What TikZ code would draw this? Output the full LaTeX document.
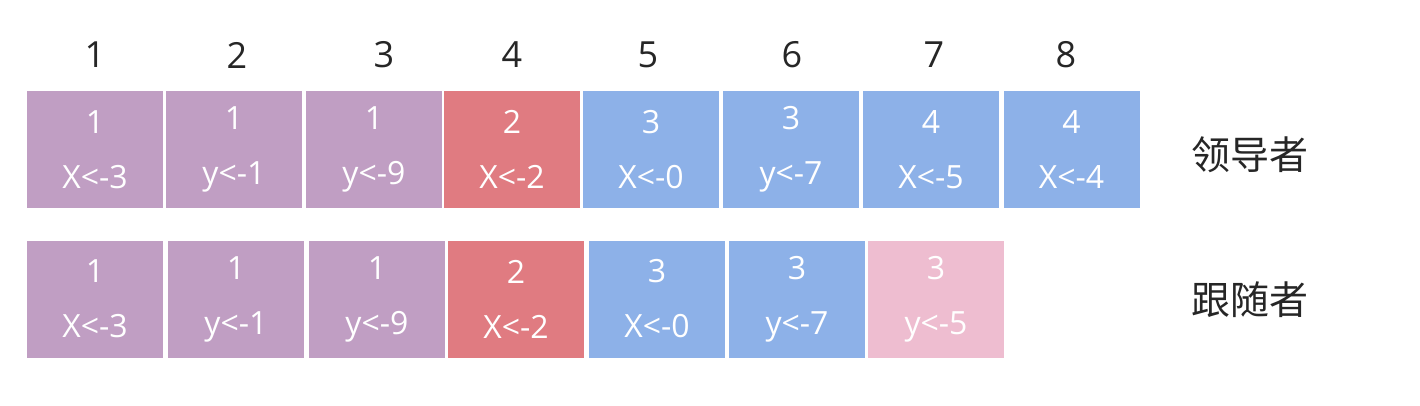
\documentclass[tikz,border=0pt]{standalone}
\usepackage{fontspec}
\setmainfont{Open Sans}
\newfontfamily\cjkfont{Noto Sans CJK SC}
\definecolor{purp}{HTML}{C09EC3}
\definecolor{redc}{HTML}{E07B81}
\definecolor{bluec}{HTML}{8DB1E8}
\definecolor{pinkc}{HTML}{EEBDD0}
\tikzset{
  cell/.style={rectangle, minimum width=136pt, minimum height=117pt, inner sep=0pt,
    text=white, align=center, font=\fontsize{32}{55}\selectfont},
  idx/.style={font=\fontsize{36}{40}\selectfont, text=black!85, inner sep=0pt},
  rolelabel/.style={font=\cjkfont\fontsize{39}{44}\selectfont, text=black!85, inner sep=0pt}
}
\begin{document}
\begin{tikzpicture}[x=1pt,y=-1pt]
\useasboundingbox (0,0) rectangle (1420,406);
\fill[white] (0,0) rectangle (1420,406);
% index numbers
\node[idx] (n1) at (95,55) {1};
\node[idx] (n2) at (237,55) {2};
\node[idx] (n3) at (384,55) {3};
\node[idx] (n4) at (512,55) {4};
\node[idx] (n5) at (648,55) {5};
\node[idx] (n6) at (792,55) {6};
\node[idx] (n7) at (934,55) {7};
\node[idx] (n8) at (1066,55) {8};
% leader row
\node[cell, fill=purp]  (t1) at (95,149.5)   {1\\X<-3};
\node[cell, fill=purp]  (t2) at (234,149.5)  {1\\y<-1};
\node[cell, fill=purp]  (t3) at (374,149.5)  {1\\y<-9};
\node[cell, fill=redc]  (t4) at (512,149.5)  {2\\X<-2};
\node[cell, fill=bluec] (t5) at (651,149.5)  {3\\X<-0};
\node[cell, fill=bluec] (t6) at (791,149.5)  {3\\y<-7};
\node[cell, fill=bluec] (t7) at (931,149.5)  {4\\X<-5};
\node[cell, fill=bluec] (t8) at (1071.5,149.5) {4\\X<-4};
% follower row
\node[cell, fill=purp]  (b1) at (95,299)  {1\\X<-3};
\node[cell, fill=purp]  (b2) at (236,299) {1\\y<-1};
\node[cell, fill=purp]  (b3) at (377,299) {1\\y<-9};
\node[cell, fill=redc]  (b4) at (516,299) {2\\X<-2};
\node[cell, fill=bluec] (b5) at (657,299) {3\\X<-0};
\node[cell, fill=bluec] (b6) at (797,299) {3\\y<-7};
\node[cell, fill=pinkc] (b7) at (936,299) {3\\y<-5};
% role labels
\node[rolelabel] (leader) at (1250,155) {领导者};
\node[rolelabel] (follower) at (1250,300) {跟随者};
\end{tikzpicture}
\end{document}
